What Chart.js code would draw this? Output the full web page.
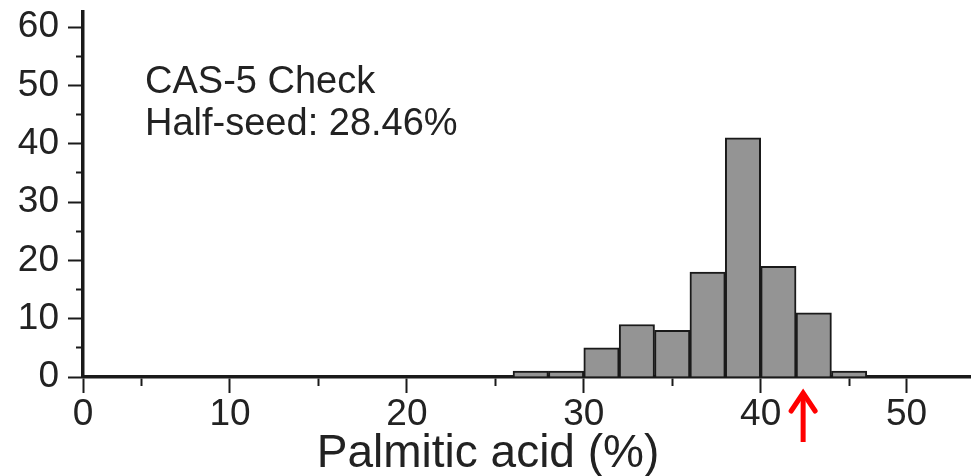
<!DOCTYPE html>
<html>
<head>
<meta charset="utf-8">
<script src="https://cdn.jsdelivr.net/npm/chart.js@4.4.1/dist/chart.umd.min.js"></script>
<style>
    html, body { margin: 0; padding: 0; background: #fff; }
    #wrap { width: 971px; height: 476px; position: relative; }
</style>
</head>
<body>
<div id="wrap"><canvas id="histChart"></canvas></div>
<script>
// histogram bins (2 % wide) and counts
const binStarts = [26, 28, 30, 32, 34, 36, 38, 40, 42, 44];
const binCounts = [1, 1, 5, 9, 8, 18, 41, 19, 11, 1];
const binWidth = 2;

// axis ticks as drawn in the figure
const xMajorTicks = [1.69, 10, 20, 30, 40, 48.25];
const xTickLabels = ['0', '10', '20', '30', '40', '50'];
const xMinorTicks = [5, 15, 25, 35, 45];
const yMajorTicks = [0, 10, 20, 30, 40, 50, 60];
const yMinorTicks = [5, 15, 25, 35, 45, 55];

const noteLines = ['CAS-5 Check', 'Half-seed: 28.46%'];
const xTitle = 'Palmitic acid (%)';
const arrowAt = 42.4;

const FONT = '"Liberation Sans", Arial, sans-serif';
const INK = '#222';

function mergeTicks(majors, minors) {
    return majors.map(v => ({ value: v, minor: false }))
        .concat(minors.map(v => ({ value: v, minor: true })))
        .sort((a, b) => a.value - b.value);
}

const extras = {
    id: 'extras',
    afterDraw(chart) {
        const { ctx, chartArea, scales } = chart;
        ctx.save();
        // note text
        ctx.fillStyle = INK;
        ctx.font = `38px ${FONT}`;
        ctx.textAlign = 'left';
        ctx.textBaseline = 'alphabetic';
        ctx.fillText(noteLines[0], chartArea.left + 62, 93);
        ctx.fillText(noteLines[1], chartArea.left + 62, 135);

        // axis title
        ctx.font = `46px ${FONT}`;
        ctx.textAlign = 'center';
        ctx.fillText(xTitle, 488, 467);

        // red arrow under the axis
        const ax = scales.x.getPixelForValue(arrowAt);
        ctx.strokeStyle = '#ff0000';
        ctx.lineWidth = 5;
        ctx.lineCap = 'butt';
        ctx.beginPath();
        ctx.moveTo(ax, 442);
        ctx.lineTo(ax, 393);
        ctx.stroke();
        ctx.lineJoin = 'miter';
        ctx.lineCap = 'round';
        ctx.beginPath();
        ctx.moveTo(ax - 12, 411);
        ctx.lineTo(ax, 393);
        ctx.lineTo(ax + 12, 411);
        ctx.stroke();
        ctx.restore();
    }
};

const ctx = document.getElementById('histChart');
new Chart(ctx, {
    type: 'bar',
    data: {
        datasets: [{
            data: binStarts.map((s, i) => ({ x: s + binWidth / 2, y: binCounts[i] })),
            backgroundColor: '#949494',
            borderColor: '#1a1a1a',
            borderWidth: 2,
            barPercentage: 1,
            categoryPercentage: 1
        }]
    },
    options: {
        responsive: true,
        maintainAspectRatio: false,
        animation: false,
        layout: { padding: { top: 12, right: 0, left: 0, bottom: 0 } },
        plugins: {
            legend: { display: false },
            tooltip: { enabled: false }
        },
        scales: {
            x: {
                type: 'linear',
                min: 1.69,
                max: 51.89,
                offset: false,
                afterBuildTicks: scale => { scale.ticks = mergeTicks(xMajorTicks, xMinorTicks); },
                afterFit: scale => {
                    scale.height = 99;
                    scale.paddingLeft = 0;
                    scale.paddingRight = 0;
                },
                border: { display: true, color: '#1a1a1a', width: 3.5 },
                grid: {
                    display: true,
                    offset: false,
                    drawOnChartArea: false,
                    drawTicks: true,
                    tickLength: 16,
                    tickWidth: 2,
                    tickColor: '#1a1a1a',
                    tickBorderDash: c => (c.tick && c.tick.minor) ? [7.5, 60] : []
                },
                ticks: {
                    autoSkip: false,
                    maxRotation: 0,
                    padding: 0,
                    color: INK,
                    font: { family: FONT, size: 37 },
                    callback: (v, i, ticks) => {
                        if (ticks[i].minor) return '';
                        return xTickLabels[xMajorTicks.indexOf(v)];
                    }
                }
            },
            y: {
                min: 0,
                max: 62.6,
                afterBuildTicks: scale => { scale.ticks = mergeTicks(yMajorTicks, yMinorTicks); },
                afterFit: scale => {
                    scale.width = 83;
                    scale.paddingTop = 0;
                    scale.paddingBottom = 0;
                },
                border: { display: true, color: '#1a1a1a', width: 3.5 },
                grid: {
                    display: true,
                    drawOnChartArea: false,
                    drawTicks: true,
                    tickLength: 15,
                    tickWidth: 2,
                    tickColor: '#1a1a1a',
                    tickBorderDash: c => (c.tick && c.tick.minor) ? [0, 8, 10, 60] : []
                },
                ticks: {
                    autoSkip: false,
                    padding: 9,
                    color: INK,
                    font: { family: FONT, size: 37 },
                    callback: (v, i, ticks) => ticks[i].minor ? '' : String(v)
                }
            }
        }
    },
    plugins: [extras]
});
</script>
</body>
</html>
